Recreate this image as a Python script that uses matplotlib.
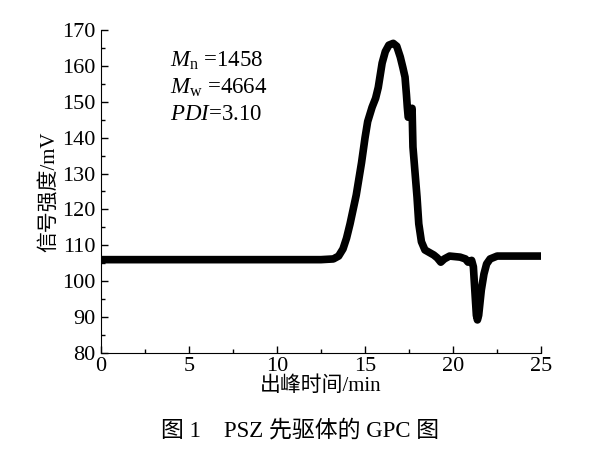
import matplotlib
matplotlib.use("Agg")
import matplotlib.pyplot as plt
from matplotlib.ticker import MultipleLocator

# GPC trace (time in min, signal in mV)
time_min = [0, 5, 10, 12.5, 13.2, 13.5, 13.75, 13.95, 14.15, 14.5, 14.8, 15.0, 15.15,
            15.4, 15.6, 15.75, 15.97, 16.15, 16.35, 16.6, 16.8, 17.0, 17.15, 17.27,
            17.35, 17.4, 17.45, 17.55, 17.67, 17.72, 17.95, 18.05, 18.2, 18.4, 18.9,
            19.1, 19.3, 19.5, 19.8, 20.4, 20.7, 20.85, 21.05, 21.15, 21.25, 21.32,
            21.38, 21.45, 21.6, 21.75, 21.9, 22.1, 22.5, 23.5, 25.0]
signal_mv = [106, 106, 106, 106, 106.2, 107, 109, 112, 116, 124, 133, 140, 144.5,
             148.5, 151, 154, 160.8, 164, 165.8, 166.3, 165.5, 162.5, 159.5, 156.9,
             152, 148.5, 145.7, 146.5, 148.2, 137.4, 123.5, 116, 111, 108.7, 107.3,
             106.5, 105.3, 106.2, 107, 106.7, 106.2, 105.3, 105.8, 104, 96, 90.5,
             89.2, 90.5, 97.5, 102, 104.8, 106.2, 107, 107, 107]

stats_lines = [r"$M_\mathrm{n}$ =1458", r"$M_\mathrm{w}$ =4664", r"$PDI$=3.10"]
stats_y = [161.5, 154, 146.5]

plt.rcParams["font.family"] = ["Liberation Serif", "Noto Sans CJK SC"]
plt.rcParams["mathtext.fontset"] = "custom"
plt.rcParams["mathtext.rm"] = "Liberation Serif"
plt.rcParams["mathtext.it"] = "Liberation Serif:italic"

fig = plt.figure(figsize=(6, 4.49), dpi=100)
ax = fig.add_axes([0.168, 0.214, 0.734, 0.719])

ax.plot(time_min, signal_mv, color="black", linewidth=5.5, solid_joinstyle="round",
        solid_capstyle="butt")

for txt, y in zip(stats_lines, stats_y):
    ax.text(3.9, y, txt, fontsize=16.5, va="center", ha="left")

ax.set_xlim(0, 25)
ax.set_ylim(80, 170)
ax.xaxis.set_major_locator(MultipleLocator(5))
ax.xaxis.set_minor_locator(MultipleLocator(2.5))
ax.yaxis.set_major_locator(MultipleLocator(10))
ax.yaxis.set_minor_locator(MultipleLocator(5))
ax.tick_params(which="both", direction="in", labelsize=16, width=1)
ax.tick_params(which="minor", length=3)
ax.tick_params(axis="x", which="major", length=5, pad=3)
ax.tick_params(axis="y", which="major", length=5, pad=4)
ax.spines["top"].set_visible(False)
ax.spines["right"].set_visible(False)

ax.set_xlabel("出峰时间/min", fontsize=15, labelpad=0)
ax.set_ylabel("信号强度/mV", fontsize=15, labelpad=2)

fig.text(0.5, 0.042, "图 1    PSZ 先驱体的 GPC 图", ha="center", va="center",
         fontsize=16.5)

fig.savefig("out.png", dpi=100)
